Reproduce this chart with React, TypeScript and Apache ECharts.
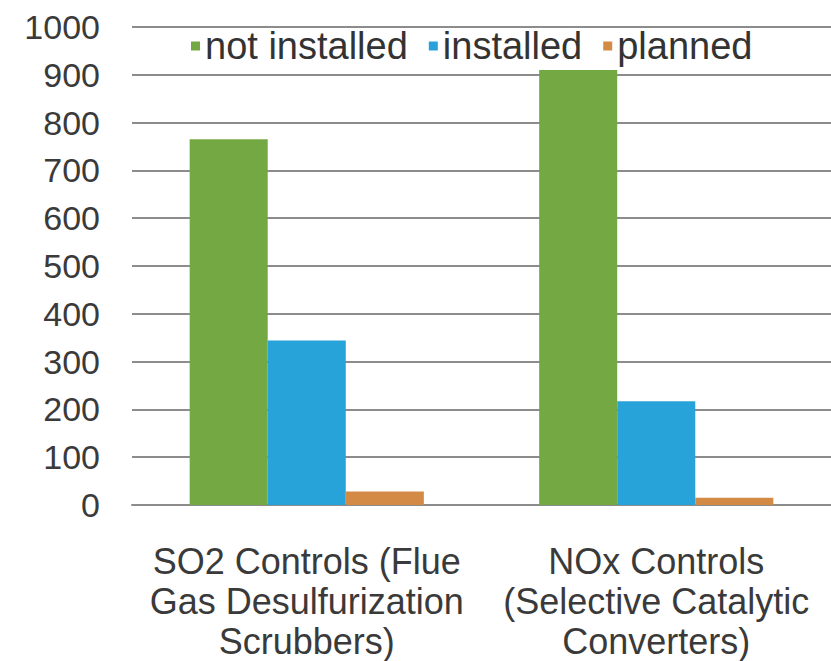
import React, { useEffect, useRef } from "react";
import * as echarts from "echarts";

const categories = [
  "SO2 Controls (Flue\nGas Desulfurization\nScrubbers)",
  "NOx Controls\n(Selective Catalytic\nConverters)",
];
const seriesNames = ["not installed", "installed", "planned"];
const notInstalled = [765, 910];
const installed = [344, 217];
const planned = [28, 15];
const colors = ["#74A843", "#28A3DA", "#D28A45"];

export default function App() {
  const ref = useRef<HTMLDivElement>(null);
  useEffect(() => {
    if (!ref.current) return;
    const chart = echarts.init(ref.current, undefined, { renderer: "svg" });
    const font = "Liberation Sans, Arial, sans-serif";
    chart.setOption({
      animation: false,
      backgroundColor: "#ffffff",
      color: colors,
      legend: {
        left: 186,
        top: 22,
        itemWidth: 9,
        itemHeight: 9,
        itemGap: 21,
        icon: "rect",
        textStyle: { fontSize: 38, color: "#333333", fontFamily: font },
        data: seriesNames,
      },
      grid: { left: 132, width: 704, top: 27, bottom: 154 },
      xAxis: {
        type: "category",
        data: categories,
        axisLine: { lineStyle: { color: "#8c8c8c", width: 2 } },
        axisTick: { show: false },
        axisLabel: {
          fontSize: 36,
          lineHeight: 40,
          color: "#3a3a3a",
          fontFamily: font,
          margin: 36,
          interval: 0,
        },
      },
      yAxis: {
        type: "value",
        min: 0,
        max: 1000,
        interval: 100,
        axisLine: { show: false },
        axisTick: { show: false },
        axisLabel: {
          fontSize: 34,
          color: "#3a3a3a",
          fontFamily: font,
          margin: 32,
          formatter: (v: number) => String(v),
        },
        splitLine: { lineStyle: { color: "#8c8c8c", width: 2 } },
      },
      series: [
        { name: seriesNames[0], type: "bar", data: notInstalled, barGap: "0%", barCategoryGap: "33%" },
        { name: seriesNames[1], type: "bar", data: installed, barGap: "0%", barCategoryGap: "33%" },
        { name: seriesNames[2], type: "bar", data: planned, barGap: "0%", barCategoryGap: "33%" },
      ],
    });
    return () => chart.dispose();
  }, []);
  return (
    <div
      ref={ref}
      style={{ position: "absolute", left: 0, top: 0, width: 831, height: 661 }}
    />
  );
}
